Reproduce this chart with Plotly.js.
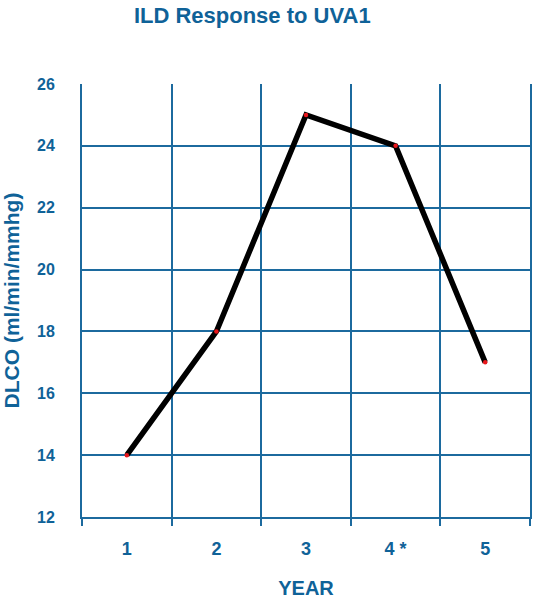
<!DOCTYPE html>
<html><head><meta charset="utf-8">
<script src="https://cdn.plot.ly/plotly-3.0.1.min.js"></script>
<style>body{margin:0;background:#fff}</style>
</head><body>
<div id="chart" style="width:539px;height:600px"></div>
<script>
const years = ["1", "2", "3", "4 *", "5"];
const dlco = [14, 18, 25, 24, 17];
const yTicks = [12, 14, 16, 18, 20, 22, 24, 26];

const blue = "#1c6a9e";
const textBlue = "#0f6298";
const font = "Liberation Sans, Arial, sans-serif";

const trace = {
  x: years, y: dlco, type: "scatter", mode: "lines+markers",
  line: {color: "#000", width: 5.5},
  marker: {color: "#e8161b", size: 4.5},
  cliponaxis: false, hoverinfo: "skip"
};

const layout = {
  width: 539, height: 600,
  margin: {l: 82, r: 9, t: 84, b: 83},
  paper_bgcolor: "#fff", plot_bgcolor: "#fff",
  showlegend: false,
  title: {text: "<b>ILD Response to UVA1</b>", x: 0.468, xanchor: "center", y: 0.975, yanchor: "middle",
    font: {family: font, size: 22, color: textBlue}},
  xaxis: {
    type: "category", range: [-0.5, 4.5], tickson: "boundaries",
    showgrid: true, gridcolor: blue, gridwidth: 2,
    showline: true, linecolor: blue, linewidth: 2, mirror: false,
    ticks: "outside", ticklen: 7, tickwidth: 2, tickcolor: blue,
    tickfont: {family: font, size: 18, color: textBlue, weight: "bold"},
    ticklabelstandoff: 14,
    zeroline: false,
    title: {text: "<b>YEAR</b>", standoff: 23, font: {family: font, size: 20, color: textBlue}}
  },
  yaxis: {
    range: [12, 26], tickvals: yTicks, ticktext: yTicks.map(String),
    showgrid: true, gridcolor: blue, gridwidth: 2,
    showline: true, linecolor: blue, linewidth: 2, mirror: true,
    ticks: "", ticklabelstandoff: 22, zeroline: false,
    tickfont: {family: font, size: 16, color: textBlue, weight: "bold"},
    title: {text: "<b>DLCO (ml/min/mmhg)</b>", standoff: 15, font: {family: font, size: 21, color: textBlue}}
  }
};
Plotly.newPlot("chart", [trace], layout, {displayModeBar: false, staticPlot: true});
</script>
</body></html>
